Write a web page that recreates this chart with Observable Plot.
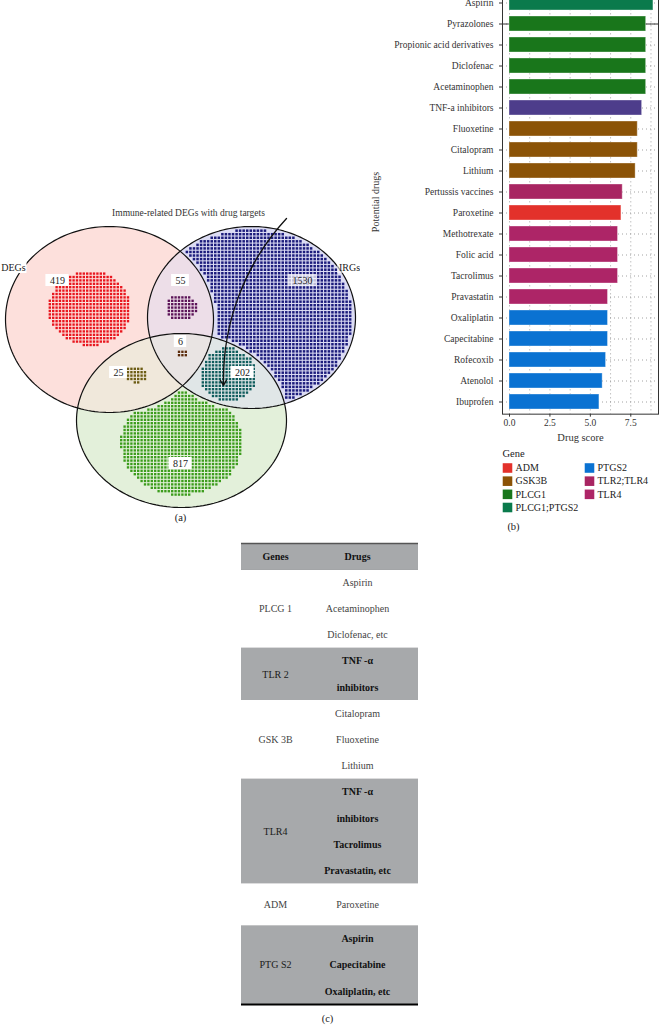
<!DOCTYPE html>
<html><head><meta charset="utf-8">
<script src="https://cdn.jsdelivr.net/npm/d3@7"></script>
<script src="https://cdn.jsdelivr.net/npm/@observablehq/plot@0.6"></script>
<style>
html,body{margin:0;padding:0;background:#fff;overflow:hidden;width:659px;height:1025px;position:relative;font-family:"Liberation Serif",serif;}
.panel{position:absolute;}
</style></head><body>
<div id="venn" class="panel" style="left:0;top:0"></div>
<div id="bars" class="panel" style="left:360px;top:-40px"></div>
<div id="legend" class="panel" style="left:495px;top:445px"></div>
<div id="table" class="panel" style="left:0;top:520px"></div>
<script>
// ---------------- DATA ----------------
// (b) drug scores
const drugs = ["Aspirin","Pyrazolones","Propionic acid derivatives","Diclofenac","Acetaminophen","TNF-a inhibitors","Fluoxetine","Citalopram","Lithium","Pertussis vaccines","Paroxetine","Methotrexate","Folic acid","Tacrolimus","Pravastatin","Oxaliplatin","Capecitabine","Rofecoxib","Atenolol","Ibuprofen"];
const drugScores = [8.9,8.45,8.45,8.45,8.45,8.2,7.93,7.93,7.8,7.0,6.92,6.71,6.71,6.71,6.09,6.09,6.09,5.97,5.76,5.56];
const drugGenes = ["PLCG1;PTGS2","PLCG1","PLCG1","PLCG1","PLCG1","TLR2","GSK3B","GSK3B","GSK3B","TLR2;TLR4","ADM","TLR4","TLR4","TLR4","TLR4","PTGS2","PTGS2","PTGS2","PTGS2","PTGS2"];
const legendGenes = ["ADM","GSK3B","PLCG1","PLCG1;PTGS2","PTGS2","TLR2;TLR4","TLR4"];
const xTicks = [0, 2.5, 5, 7.5];

// (a) Venn
const setLabels = ["DEGs","IRGs"];
const vennTitle = "Immune-related DEGs with drug targets";
const regionCodes = [[1,0,0],[1,1,0],[0,1,0],[1,1,1],[1,0,1],[0,1,1],[0,0,1]];
const regionCounts = [419,55,1530,6,25,202,817];

// (c) table
const tableHeader = ["Genes","Drugs"];
const tableGenes = ["PLCG 1","TLR 2","GSK 3B","TLR4","ADM","PTG S2"];
const tableDrugs = [["Aspirin","Acetaminophen","Diclofenac, etc"],["TNF -α","inhibitors"],["Citalopram","Fluoxetine","Lithium"],["TNF -α","inhibitors","Tacrolimus","Pravastatin, etc"],["Paroxetine"],["Aspirin","Capecitabine","Oxaliplatin, etc"]];

// ---------------- STYLE / LAYOUT ----------------
const FONT = "Liberation Serif";
const colorDomain = [...legendGenes, "TLR2"];
const colorRange = ["#e3312b","#8b5307","#19761b","#0a7a4c","#0a72d2","#a82562","#ad2567","#4d3d8b"];

// ================= (b) BAR CHART =================
const barRows = drugs.map((d, i) => ({drug: d, score: drugScores[i], gene: drugGenes[i]}));
const bars = Plot.plot({
  width: 299, height: 490,
  marginLeft: 142, marginRight: 1, marginTop: 29.34, marginBottom: 36.34,
  style: {fontFamily: FONT, fontSize: "9.5px", color: "#333", background: "transparent"},
  x: {domain: [-0.433, 9.214], ticks: xTicks, tickFormat: ".1f", tickSize: 3, tickPadding: 2, label: null},
  y: {domain: drugs, paddingInner: 0.29, paddingOuter: 0.245, tickSize: 3, label: null},
  color: {domain: colorDomain, range: colorRange},
  marks: [
    Plot.ruleX(d3.range(0, 9, 1.25), {stroke: "#8a8a8a", strokeDasharray: "1,3", strokeWidth: 0.8}),
    Plot.ruleY(drugs, {stroke: "#8a8a8a", strokeDasharray: "1,3", strokeWidth: 0.8}),
    Plot.ruleY(["Pyrazolones"], {stroke: "#333", strokeWidth: 1}),
    Plot.barX(barRows, {x: "score", y: "drug", fill: "gene", stroke: "#fff", strokeOpacity: 0.35, strokeWidth: 1}),
    Plot.frame({stroke: "#333", strokeWidth: 1}),
    Plot.text(["Drug score"], {frameAnchor: "bottom", dy: 23, fontSize: 10.5, fill: "#333", lineAnchor: "middle"}),
    Plot.text(["Potential drugs"], {frameAnchor: "left", dx: -127, rotate: -90, textAnchor: "middle", fontSize: 10, fill: "#333"})
  ]
});
document.getElementById("bars").append(bars);

// legend
const legend = Plot.plot({
  width: 160, height: 90, margin: 0,
  style: {fontFamily: FONT, fontSize: "10px", color: "#222", background: "transparent"},
  x: {domain: [0, 1], range: [12, 94], axis: null},
  y: {domain: [0, 3], range: [22.5, 62], axis: null},
  color: {domain: colorDomain, range: colorRange},
  marks: [
    Plot.text(["Gene"], {frameAnchor: "top-left", dx: 7, dy: 8, textAnchor: "start", lineAnchor: "middle", fontSize: 10.5}),
    Plot.dot(legendGenes, {x: (d, i) => Math.floor(i / 4), y: (d, i) => i % 4, fill: d => d, symbol: "square", r: 5.4}),
    Plot.text(legendGenes, {x: (d, i) => Math.floor(i / 4), y: (d, i) => i % 4, text: d => d, dx: 8, textAnchor: "start", fontSize: 10}),
    Plot.text(["(b)"], {frameAnchor: "top-left", dx: 18, dy: 81, textAnchor: "middle", lineAnchor: "middle", fontSize: 10.5})
  ]
});
document.getElementById("legend").append(legend);

// ================= (a) VENN =================
const ell = [
  {cx: 109, cy: 319, rx: 104, ry: 93},
  {cx: 251, cy: 317, rx: 104, ry: 91},
  {cx: 181, cy: 420, rx: 105, ry: 87}
];
const setFill = ["#fde0dc", "#dcdcf4", "#e3f0da"];
const blobs = [
  {x: 89, y: 308, ax: 1.1, color: "#e8161e", s: 3.4},
  {x: 181, y: 307, ax: 1.25, color: "#5c1458", s: 3.4},
  {x: 292, y: 300, ax: 1.1, color: "#1c1c7c", s: 3.55},
  {x: 181, y: 353, ax: 1.6, color: "#5c2c0c", s: 3.4},
  {x: 136, y: 374, ax: 1.45, color: "#6c5c14", s: 3.4},
  {x: 228, y: 374, ax: 1.05, color: "#0e5c5c", s: 3.4},
  {x: 181, y: 442, ax: 1.15, color: "#3c9c1c", s: 3.4}
];
const labelPos = [[57,280],[180,280],[302,280],[180,341],[118,372],[242,372],[180,463]];

const ellPts = e => d3.range(0, 360, 2).map(a => [e.cx + e.rx * Math.cos(a * Math.PI / 180), e.cy + e.ry * Math.sin(a * Math.PI / 180)]);
function clipPoly(subject, clip) {
  let out = subject;
  for (let i = 0; i < clip.length; i++) {
    const a = clip[i], b = clip[(i + 1) % clip.length];
    const inp = out; out = [];
    if (!inp.length) break;
    const side = p => (b[0] - a[0]) * (p[1] - a[1]) - (b[1] - a[1]) * (p[0] - a[0]);
    for (let j = 0; j < inp.length; j++) {
      const p = inp[j], q = inp[(j + 1) % inp.length];
      const sp = side(p), sq = side(q);
      if (sp >= 0) out.push(p);
      if ((sp >= 0) !== (sq >= 0)) { const t = sp / (sp - sq); out.push([p[0] + t * (q[0] - p[0]), p[1] + t * (q[1] - p[1])]); }
    }
  }
  return out;
}
const avgColor = idx => { const cs = idx.map(i => d3.rgb(setFill[i])); return d3.rgb(d3.mean(cs, c => c.r), d3.mean(cs, c => c.g), d3.mean(cs, c => c.b)).formatHex(); };
const P = ell.map(ellPts);
const pLR = clipPoly(P[0], P[1]), pLB = clipPoly(P[0], P[2]), pRB = clipPoly(P[1], P[2]), pLRB = clipPoly(pLR, P[2]);
const toObj = pts => [...pts, pts[0]].map(([x, y]) => ({x, y}));
const fillPolys = [
  [P[0], setFill[0]], [P[1], setFill[1]], [P[2], setFill[2]],
  [pLR, avgColor([0,1])], [pLB, avgColor([0,2])], [pRB, avgColor([1,2])], [pLRB, avgColor([0,1,2])]
];
const inside = (e, x, y, m) => ((x - e.cx) / (e.rx + m)) ** 2 + ((y - e.cy) / (e.ry + m)) ** 2 < 1;
function regionDots(code, count, b) {
  const s = b.s, pool = [];
  for (let x = s / 2; x < 360; x += s) for (let y = 200 + s / 2; y < 520; y += s) {
    let ok = true;
    for (let j = 0; j < 3; j++) {
      if (code[j] ? !inside(ell[j], x, y, -3) : inside(ell[j], x, y, 3)) { ok = false; break; }
    }
    if (ok) pool.push({x, y, d: ((x - b.x) / b.ax) ** 2 + (y - b.y) ** 2});
  }
  pool.sort((p, q) => p.d - q.d);
  return pool.slice(0, count);
}
const numLabels = regionCounts.map((c, i) => ({t: String(c), x: labelPos[i][0], y: labelPos[i][1], w: 5.4 * String(c).length + 7, op: c > 1000 ? 0.7 : 1}));
const setLab = [{t: setLabels[0], x: 13, y: 267, w: 27, op: 1}, {t: setLabels[1], x: 349, y: 267, w: 24, op: 0.55}];

const vennMarks = [];
fillPolys.forEach(([pts, c]) => vennMarks.push(Plot.line(toObj(pts), {x: "x", y: "y", fill: c, stroke: "none"})));
regionCodes.forEach((code, i) => {
  const b = blobs[i];
  vennMarks.push(Plot.dot(regionDots(code, regionCounts[i], b), {x: "x", y: "y", symbol: "square", r: b.s > 3.5 ? 1.42 : 1.33, fill: b.color, stroke: "none"}));
});
P.forEach(pts => vennMarks.push(Plot.line(toObj(pts), {x: "x", y: "y", stroke: "#111", strokeWidth: 1.2, fill: "none"})));
const boxOpts = {x1: d => d.x - d.w / 2, x2: d => d.x + d.w / 2, y1: d => d.y - 6, y2: d => d.y + 6, fill: "#fff", fillOpacity: d => d.op};
vennMarks.push(Plot.rect([...numLabels, ...setLab], boxOpts));
vennMarks.push(Plot.text([...numLabels, ...setLab], {x: "x", y: "y", text: "t", fill: "#222", fontSize: 10}));
vennMarks.push(Plot.text([vennTitle], {x: () => 188, y: () => 212, text: d => d, fontSize: 9.5, fill: "#333"}));
vennMarks.push(Plot.arrow([{x1: 286, y1: 218, x2: 223, y2: 385}], {x1: "x1", y1: "y1", x2: "x2", y2: "y2", bend: -22, headLength: 7, stroke: "#111", strokeWidth: 1.3}));
vennMarks.push(Plot.text(["(a)"], {x: () => 180, y: () => 517, text: d => d, fontSize: 10.5, fill: "#222"}));

const venn = Plot.plot({
  width: 360, height: 530, margin: 0,
  style: {fontFamily: FONT, fontSize: "10px", color: "#222", background: "transparent"},
  x: {domain: [0, 360], range: [0, 360], axis: null},
  y: {domain: [0, 530], range: [0, 530], axis: null},
  marks: vennMarks
});
document.getElementById("venn").append(venn);

// ================= (c) TABLE =================
const tbl = {left: 241, right: 418, top: 23, header: 26, geneX: 275, drugX: 357, lineH: 26.2, minLines: 1.6, gray: "#a7a9ab"};
let yy = tbl.top + tbl.header;
const tRows = tableGenes.map((g, i) => {
  const n = tableDrugs[i].length, h = Math.max(n, tbl.minLines) * tbl.lineH;
  const r = {gene: g, drugs: tableDrugs[i], y1: yy, y2: yy + h, shaded: i % 2 === 1};
  yy += h; return r;
});
const tLines = tRows.flatMap(r => r.drugs.map((d, j) => ({t: d, y: r.y1 + (j + 0.5) * (r.y2 - r.y1) / r.drugs.length, shaded: r.shaded})));
const tableEnd = yy;
const table = Plot.plot({
  width: 659, height: 505, margin: 0,
  style: {fontFamily: FONT, fontSize: "10px", color: "#222", background: "transparent"},
  x: {domain: [0, 659], range: [0, 659], axis: null},
  y: {domain: [0, 505], range: [0, 505], axis: null},
  marks: [
    Plot.rect([0], {x1: tbl.left, x2: tbl.right, y1: tbl.top, y2: tbl.top + tbl.header, fill: tbl.gray}),
    Plot.rect(tRows.filter(r => r.shaded), {x1: tbl.left, x2: tbl.right, y1: "y1", y2: "y2", fill: tbl.gray}),
    Plot.ruleY([tbl.top], {x1: tbl.left, x2: tbl.right, stroke: "#555", strokeWidth: 1.5}),
    Plot.ruleY([tbl.top + tbl.header], {x1: tbl.left, x2: tbl.right, stroke: "#8c8e90", strokeWidth: 0.8}),
    Plot.ruleY([tableEnd], {x1: tbl.left, x2: tbl.right, stroke: "#000", strokeWidth: 2}),
    Plot.text(tableHeader, {x: (d, i) => i ? tbl.drugX : tbl.geneX, y: () => tbl.top + tbl.header / 2, text: d => d, fontWeight: "bold", fill: "#111", fontSize: 10}),
    Plot.text(tRows, {x: () => tbl.geneX, y: r => (r.y1 + r.y2) / 2, text: "gene", fill: r => r.shaded ? "#1a1a1a" : "#444", fontSize: 10}),
    Plot.text(tLines.filter(l => !l.shaded), {x: () => tbl.drugX, y: "y", text: "t", fill: "#444", fontSize: 10}),
    Plot.text(tLines.filter(l => l.shaded), {x: () => tbl.drugX, y: "y", text: "t", fill: "#111", fontWeight: "bold", fontSize: 10}),
    Plot.text(["(c)"], {x: () => 327, y: () => 498, text: d => d, fontSize: 10.5, fill: "#222"})
  ]
});
document.getElementById("table").append(table);
</script>
</body></html>
